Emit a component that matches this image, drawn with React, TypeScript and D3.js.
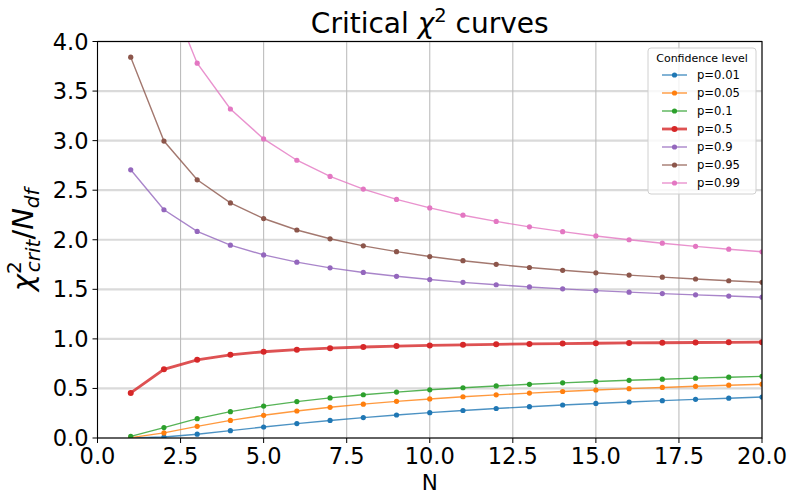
import React from "react";
import * as d3 from "d3";

// Degrees of freedom
const N = [1, 2, 3, 4, 5, 6, 7, 8, 9, 10, 11, 12, 13, 14, 15, 16, 17, 18, 19, 20];

// Critical chi-square divided by degrees of freedom, per confidence level
const p001 = [0.0002, 0.0101, 0.0383, 0.0743, 0.1109, 0.1454, 0.177, 0.2058, 0.232, 0.2558, 0.2776, 0.2976, 0.3159, 0.3329, 0.3486, 0.3633, 0.3769, 0.3897, 0.4017, 0.413];
const p005 = [0.0039, 0.0513, 0.1173, 0.1777, 0.2291, 0.2726, 0.3096, 0.3416, 0.3695, 0.394, 0.4159, 0.4355, 0.4532, 0.4693, 0.4841, 0.4976, 0.5101, 0.5217, 0.5325, 0.5425];
const p01 = [0.0158, 0.1054, 0.1948, 0.2659, 0.3221, 0.3674, 0.4047, 0.4362, 0.4631, 0.4865, 0.5071, 0.5253, 0.5417, 0.5564, 0.5698, 0.582, 0.5932, 0.6036, 0.6132, 0.6221];
const p05 = [0.4549, 0.6931, 0.7887, 0.8392, 0.8703, 0.8914, 0.9065, 0.918, 0.927, 0.9342, 0.9401, 0.945, 0.9492, 0.9528, 0.9559, 0.9587, 0.9611, 0.9632, 0.9651, 0.9669];
const p09 = [2.7055, 2.3026, 2.0838, 1.9449, 1.8473, 1.7741, 1.7167, 1.6702, 1.6315, 1.5987, 1.5705, 1.5458, 1.524, 1.5046, 1.4871, 1.4714, 1.457, 1.4439, 1.4318, 1.4206];
const p095 = [3.8415, 2.9957, 2.6049, 2.3719, 2.2141, 2.0986, 2.0096, 1.9384, 1.8799, 1.8307, 1.7886, 1.7522, 1.7202, 1.6918, 1.6664, 1.6435, 1.6228, 1.6038, 1.5865, 1.5705];
const p099 = [6.6349, 4.6052, 3.7816, 3.3192, 3.0173, 2.802, 2.6393, 2.5113, 2.4073, 2.3209, 2.2477, 2.1848, 2.1299, 2.0815, 2.0385, 2.0, 1.9652, 1.9336, 1.9048, 1.8783];

const seriesLabels = ["p=0.01", "p=0.05", "p=0.1", "p=0.5", "p=0.9", "p=0.95", "p=0.99"];
const seriesValues = [p001, p005, p01, p05, p09, p095, p099];
const colors = ["#1f77b4", "#ff7f0e", "#2ca02c", "#d62728", "#9467bd", "#8c564b", "#e377c2"];

const xTicks = [0, 2.5, 5, 7.5, 10, 12.5, 15, 17.5, 20];
const yTicks = [0, 0.5, 1, 1.5, 2, 2.5, 3, 3.5, 4];

const W = 790;
const H = 495;
const L = 97.5;
const R = 762;
const T = 41.5;
const B = 438;

const FONT = "DejaVu Sans, sans-serif";

export default function App() {
  const x = d3.scaleLinear().domain([0, 20]).range([L, R]);
  const y = d3.scaleLinear().domain([0, 4]).range([B, T]);
  const line = d3
    .line<number>()
    .x((_, i) => x(N[i]))
    .y((d) => y(d));

  const legX = 648;
  const legY = 48;
  const legW = 108;
  const legH = 146;

  return (
    <div style={{ position: "absolute", left: 0, top: 0 }}>
      <svg width={W} height={H} style={{ display: "block", background: "#fff" }}>
        <defs>
          <clipPath id="plotArea">
            <rect x={L} y={T} width={R - L} height={B - T} />
          </clipPath>
        </defs>

        {/* grid */}
        {yTicks.map((t) => (
          <line key={"gy" + t} x1={L} x2={R} y1={y(t)} y2={y(t)} stroke="#dadada" strokeWidth={2.2} />
        ))}
        {xTicks.map((t) => (
          <line key={"gx" + t} x1={x(t)} x2={x(t)} y1={T} y2={B} stroke="#bdbdbd" strokeWidth={1.1} />
        ))}

        {/* series */}
        <g clipPath="url(#plotArea)">
          {seriesValues.map((vals, si) => (
            <g key={"s" + si}>
              <path
                d={line(vals) || ""}
                fill="none"
                stroke={colors[si]}
                strokeOpacity={0.8}
                strokeWidth={si === 3 ? 2.8 : 1.4}
              />
              {vals.map((v, i) => (
                <circle key={i} cx={x(N[i])} cy={y(v)} r={si === 3 ? 3 : 2.6} fill={colors[si]} />
              ))}
            </g>
          ))}
        </g>

        {/* frame */}
        <rect x={L} y={T} width={R - L} height={B - T} fill="none" stroke="#000" strokeWidth={1.1} />

        {/* x axis */}
        {xTicks.map((t) => (
          <g key={"xt" + t}>
            <line x1={x(t)} x2={x(t)} y1={B} y2={B + 5} stroke="#000" strokeWidth={1} />
            <text x={x(t)} y={464} textAnchor="middle" fontFamily={FONT} fontSize={22.5} fill="#000">
              {t.toFixed(1)}
            </text>
          </g>
        ))}
        {/* y axis */}
        {yTicks.map((t) => (
          <g key={"yt" + t}>
            <line x1={L - 5} x2={L} y1={y(t)} y2={y(t)} stroke="#000" strokeWidth={1} />
            <text x={L - 9} y={y(t) + 8} textAnchor="end" fontFamily={FONT} fontSize={22.5} fill="#000">
              {t.toFixed(1)}
            </text>
          </g>
        ))}

        {/* axis labels */}
        <text x={(L + R) / 2} y={489.5} textAnchor="middle" fontFamily={FONT} fontSize={21.5} fill="#000">
          N
        </text>
        <g transform={`translate(33, ${(T + B) / 2}) rotate(-90)`}>
          <text textAnchor="middle" fontFamily={FONT} fontSize={29} fill="#000">
            <tspan fontStyle="italic">χ</tspan>
            <tspan fontSize={20} dy={-12}>2</tspan>
            <tspan fontSize={20} fontStyle="italic" dx={-11} dy={19}>crit</tspan>
            <tspan dy={-7}>/</tspan>
            <tspan fontStyle="italic">N</tspan>
            <tspan fontSize={20} fontStyle="italic" dy={6}>df</tspan>
          </text>
        </g>

        {/* title */}
        <text x={(L + R) / 2} y={33} textAnchor="middle" fontFamily={FONT} fontSize={28} fill="#000">
          Critical <tspan fontStyle="italic">χ</tspan>
          <tspan fontSize={19.5} dy={-11}>2</tspan>
          <tspan dy={11}> curves</tspan>
        </text>

        {/* legend */}
        <rect x={legX} y={legY} width={legW} height={legH} rx={3} fill="#fff" fillOpacity={0.8} stroke="#d0d0d0" strokeWidth={1} />
        <text x={legX + legW / 2} y={62} textAnchor="middle" fontFamily={FONT} fontSize={11} fill="#000">
          Confidence level
        </text>
        {seriesLabels.map((lab, si) => {
          const cy = 75 + si * 18;
          return (
            <g key={"lg" + si}>
              <line x1={662} x2={687} y1={cy} y2={cy} stroke={colors[si]} strokeOpacity={0.8} strokeWidth={si === 3 ? 2.8 : 1.4} />
              <circle cx={674.5} cy={cy} r={si === 3 ? 3 : 2.6} fill={colors[si]} />
              <text x={697} y={cy + 4} fontFamily={FONT} fontSize={11.6} fill="#000">
                {lab}
              </text>
            </g>
          );
        })}
      </svg>
    </div>
  );
}
